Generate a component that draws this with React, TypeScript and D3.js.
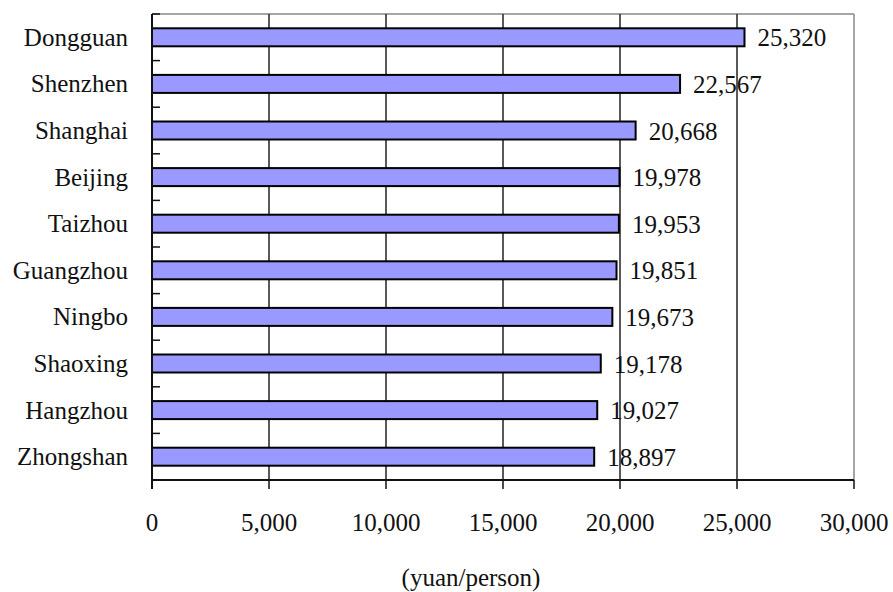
import React from "react";
import * as d3 from "d3";

const categories = ["Dongguan", "Shenzhen", "Shanghai", "Beijing", "Taizhou", "Guangzhou", "Ningbo", "Shaoxing", "Hangzhou", "Zhongshan"];
const values = [25320, 22567, 20668, 19978, 19953, 19851, 19673, 19178, 19027, 18897];
const xTicks = [0, 5000, 10000, 15000, 20000, 25000, 30000];
const axisTitle = "(yuan/person)";

const W = 893, H = 592;
const left = 152, right = 854, top = 14, bottom = 480;
const font = `"Liberation Serif", "Times New Roman", serif`;
const fs = 25;
const ts = { fontFamily: font };

export default function App() {
  const x = d3.scaleLinear().domain([0, 30000]).range([left, right]);
  const y = d3.scaleBand<string>().domain(categories).range([top, bottom]);
  const fmt = d3.format(",");
  const bw = y.bandwidth();
  const barH = 18;
  const boundaries = d3.range(categories.length + 1).map((i) => top + i * bw);
  return (
    <svg width={W} height={H} style={{ position: "absolute", left: 0, top: 0, background: "#fff" }}>
      <line x1={left} x2={right} y1={top} y2={top} stroke="#888" strokeWidth={1.5} />
      <line x1={right} x2={right} y1={top} y2={bottom} stroke="#888" strokeWidth={1.5} />
      {xTicks.slice(1, -1).map((t) => (
        <line key={t} x1={x(t)} x2={x(t)} y1={top} y2={bottom} stroke="#222" strokeWidth={1.5} />
      ))}
      {categories.map((c, i) => {
        const cy = (y(c) as number) + bw / 2;
        return (
          <g key={c}>
            <rect x={x(0)} y={cy - barH / 2} width={x(values[i]) - x(0)} height={barH} fill="#9999FF" stroke="#000" strokeWidth={2} />
            <text x={x(values[i]) + 13} y={cy + 9} style={ts} fontSize={fs} fill="#111">{fmt(values[i])}</text>
            <text x={128} y={cy + 8.5} textAnchor="end" style={ts} fontSize={fs} fill="#111">{c}</text>
          </g>
        );
      })}
      <line x1={left} x2={left} y1={top} y2={bottom + 9} stroke="#111" strokeWidth={2} />
      {boundaries.map((b, i) => (
        <line key={i} x1={left} x2={left + 8} y1={b} y2={b} stroke="#111" strokeWidth={1.5} />
      ))}
      <line x1={left} x2={right} y1={bottom} y2={bottom} stroke="#111" strokeWidth={2} />
      {xTicks.map((t) => (
        <g key={t}>
          <line x1={x(t)} x2={x(t)} y1={bottom} y2={bottom + 9} stroke="#111" strokeWidth={1.5} />
          <text x={x(t)} y={531} textAnchor="middle" style={ts} fontSize={fs} fill="#111">{fmt(t)}</text>
        </g>
      ))}
      <text x={471} y={586} textAnchor="middle" style={ts} fontSize={fs} fill="#111">{axisTitle}</text>
    </svg>
  );
}
